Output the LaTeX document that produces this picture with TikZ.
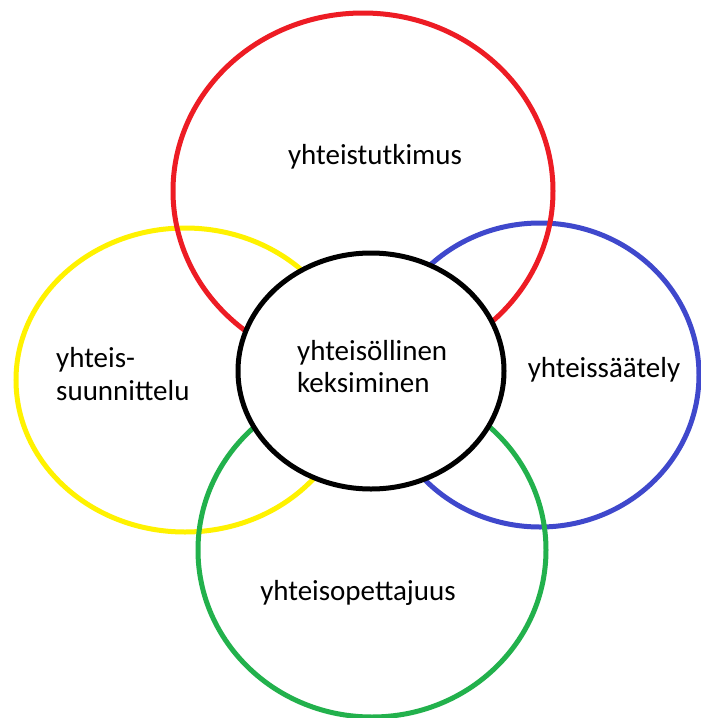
\documentclass[tikz,border=0pt]{standalone}
\usepackage{fontspec}
\setmainfont{Carlito}
\definecolor{ringred}{HTML}{ED1C24}
\definecolor{ringyellow}{HTML}{FFF200}
\definecolor{ringblue}{HTML}{3F48CC}
\definecolor{ringgreen}{HTML}{22B14C}
\begin{document}
\begin{tikzpicture}[x=1pt,y=-1pt,
  ring/.style={line width=5pt},
  lbl/.style={inner sep=0pt,font=\fontsize{29}{33}\selectfont,text=black}]
\useasboundingbox (0,0) rectangle (701,718);
\fill[white] (0,0) rectangle (701,718);

% outer rings, in stacking order
\draw[ring,ringyellow] (185,380) ellipse [x radius=169pt, y radius=152pt];
\draw[ring,ringblue]   (540,375) ellipse [x radius=159pt, y radius=152pt];
\draw[ring,ringred]    (363,191) ellipse [x radius=190pt, y radius=178pt];
\draw[ring,ringgreen]  (372,550) ellipse [x radius=174pt, y radius=167pt];

% central ring on top
\draw[ring,black,fill=white] (371,371) ellipse [x radius=133pt, y radius=118pt];

% labels
\node[lbl,anchor=base] (tutk) at (375,164) {yhteistutkimus};
\node[lbl,anchor=base west] (kesk1) at (297,360) {yhteisöllinen};
\node[lbl,anchor=base west] (kesk2) at (297,392) {keksiminen};
\node[lbl,anchor=base] (saat) at (604,377) {yhteissäätely};
\node[lbl,anchor=base west] (suun1) at (56,367) {yhteis-};
\node[lbl,anchor=base west] (suun2) at (56,400) {suunnittelu};
\node[lbl,anchor=base] (opet) at (358,600) {yhteisopettajuus};
\end{tikzpicture}
\end{document}
